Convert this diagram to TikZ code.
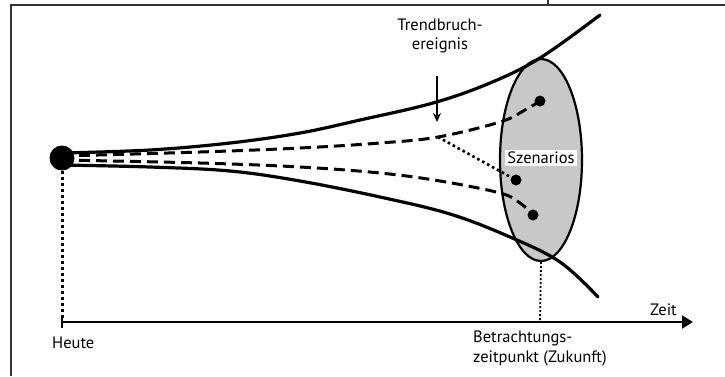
\documentclass[tikz,border=0pt]{standalone}
\usepackage{fontspec}
\setmainfont{PT Sans}
\usetikzlibrary{arrows.meta,shapes.geometric}
\definecolor{framegray}{HTML}{333333}
\definecolor{scenfill}{HTML}{C8C8C9}
\tikzset{
  frameline/.style={draw=framegray,line width=1.5pt},
  bound/.style={line width=3.2pt,line cap=round},
  scen/.style={line width=3pt,dash pattern=on 11pt off 6pt},
  dotline/.style={line width=3pt,dash pattern=on 3pt off 3pt},
  brkdot/.style={line width=2.6pt,dash pattern=on 2.6pt off 3pt},
  thindot/.style={line width=1.8pt,dash pattern=on 2pt off 2pt},
  enddot/.style={circle,fill=black,inner sep=0pt,minimum size=11pt},
  lbl/.style={font=\fontsize{16.5}{19.5}\selectfont,inner sep=0pt},
}
\begin{document}
\begin{tikzpicture}[x=1pt,y=-1pt]
\useasboundingbox (0,0) rectangle (725,376);
% frame
\draw[frameline] (11,376) -- (11,5) -- (725,5);
\draw[frameline] (548,0) -- (548,5);
% ellipse
\node[ellipse,draw,line width=2.2pt,fill=scenfill,minimum width=82pt,minimum height=202pt,inner sep=0pt] (ell) at (541,160) {};
% boundaries
\draw[bound] plot[smooth,tension=0.6] coordinates {(62,153) (150,150) (230,143) (300,133) (360,120) (433,103) (490,83) (540,58) (600,15)};
\draw[bound] plot[smooth,tension=0.6] coordinates {(62,165) (150,167) (230,171) (300,181) (380,197) (450,214) (510,237) (560,262) (598,297)};
% scenario dots
\node[enddot] (s1) at (540,101) {};
\node[enddot] (s2) at (516,180) {};
\node[enddot] (s3) at (533,215) {};
\coordinate (brk) at (438,137);
% dashed scenario lines
\draw[scen] plot[smooth,tension=0.6] coordinates {(62,156) (200,152) (300,148) (380,143) (438,137) (500,122) (525,110) (s1)};
\draw[scen] plot[smooth,tension=0.6] coordinates {(62,160) (200,163) (300,167) (380,173) (440,181) (500,193) (520,203) (s3)};
% dotted break
\draw[brkdot] (brk) -- (s2);
% today dot
\node[circle,fill=black,inner sep=0pt,minimum size=25pt] (today) at (62,158) {};
% axis
\coordinate (axs) at (62,322);
\coordinate (axe) at (693,322);
\draw[line width=2pt,-{Triangle[length=11pt,width=13pt]}] (axs) -- (axe);
\draw[line width=1.6pt] (62,316) -- (62,328);
% vertical dotted
\draw[dotline] (today.south) -- (axs);
\coordinate (fut) at (540,322);
\draw[thindot] (ell.south) -- (fut);
% labels
\node[lbl,fill=white,inner sep=2.5pt] at (541,158) {Szenarios};
\node[lbl,align=center] (tb) at (440,36) {Trendbruch-\\ereignis};
\coordinate (arrs) at (437,76);
\coordinate (arre) at (437,122);
\draw[line width=1.6pt,-{Stealth[length=9pt,width=8pt]}] (arrs) -- (arre);
\node[lbl,anchor=west] at (52,343) {Heute};
\node[lbl,anchor=west] at (650,310) {Zeit};
\node[lbl,anchor=north west,align=left] at (473,331) {Betrachtungs-\\zeitpunkt (Zukunft)};
\end{tikzpicture}
\end{document}
